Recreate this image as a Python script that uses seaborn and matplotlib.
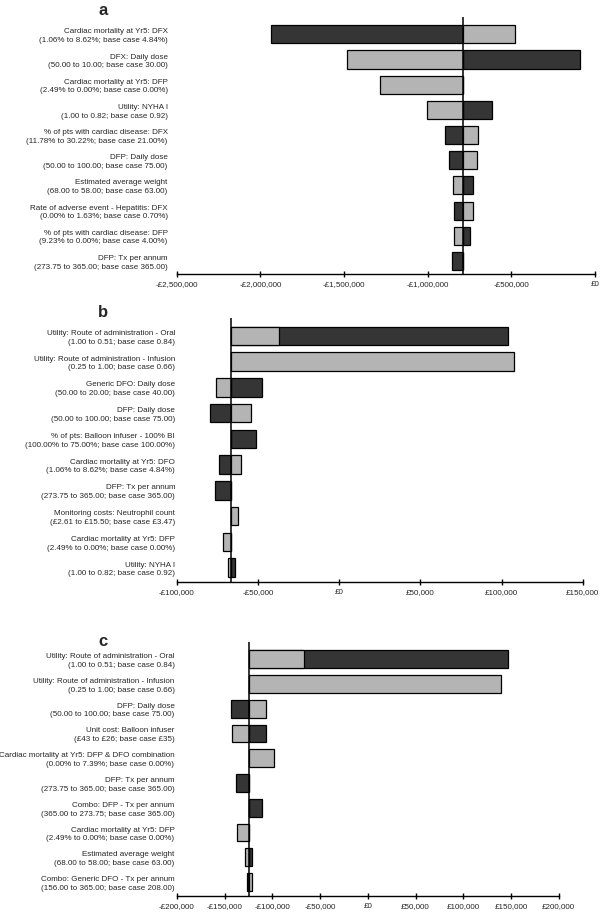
import matplotlib
matplotlib.use("Agg")
import matplotlib.pyplot as plt
import numpy as np
import pandas as pd
import seaborn as sns

# ---------------- data ----------------
a_labels = [
    "Cardiac mortality at Yr5: DFX\n(1.06% to 8.62%; base case 4.84%)",
    "DFX: Daily dose\n(50.00 to 10.00; base case 30.00)",
    "Cardiac mortality at Yr5: DFP\n(2.49% to 0.00%; base case 0.00%)",
    "Utility: NYHA I\n(1.00 to 0.82; base case 0.92)",
    "% of pts with cardiac disease: DFX\n(11.78% to 30.22%; base case 21.00%)",
    "DFP: Daily dose\n(50.00 to 100.00; base case 75.00)",
    "Estimated average weight\n(68.00 to 58.00; base case 63.00)",
    "Rate of adverse event - Hepatitis: DFX\n(0.00% to 1.63%; base case 0.70%)",
    "% of pts with cardiac disease: DFP\n(9.23% to 0.00%; base case 4.00%)",
    "DFP: Tx per annum\n(273.75 to 365.00; base case 365.00)",
]
a_base = -787000
a_light = [-481000, -1484000, -1287000, -1002000, -701000, -703000, -850000, -731000, -844000, -787000]
a_dark = [-1939000, -91000, -787000, -614000, -895000, -872000, -727000, -841000, -749000, -854000]
a_ticks = [-2500000, -2000000, -1500000, -1000000, -500000, 0]
a_ticklabels = ["-£2,500,000", "-£2,000,000", "-£1,500,000", "-£1,000,000", "-£500,000", "£0"]

b_labels = [
    "Utility: Route of administration - Oral\n(1.00 to 0.51; base case 0.84)",
    "Utility: Route of administration - Infusion\n(0.25 to 1.00; base case 0.66)",
    "Generic DFO: Daily dose\n(50.00 to 20.00; base case 40.00)",
    "DFP: Daily dose\n(50.00 to 100.00; base case 75.00)",
    "% of pts: Balloon infuser - 100% BI\n(100.00% to 75.00%; base case 100.00%)",
    "Cardiac mortality at Yr5: DFO\n(1.06% to 8.62%; base case 4.84%)",
    "DFP: Tx per annum\n(273.75 to 365.00; base case 365.00)",
    "Monitoring costs: Neutrophil count\n(£2.61 to £15.50; base case £3.47)",
    "Cardiac mortality at Yr5: DFP\n(2.49% to 0.00%; base case 0.00%)",
    "Utility: NYHA I\n(1.00 to 0.82; base case 0.92)",
]
b_base = -66700
b_light = [-36800, 107400, -76100, -54000, -66700, -60200, -66700, -62300, -71300, -68600]
b_dark = [103700, -66700, -47600, -79400, -51400, -73800, -76200, -66700, -66700, -64300]
b_ticks = [-100000, -50000, 0, 50000, 100000, 150000]
b_ticklabels = ["-£100,000", "-£50,000", "£0", "£50,000", "£100,000", "£150,000"]

c_labels = [
    "Utility: Route of administration - Oral\n(1.00 to 0.51; base case 0.84)",
    "Utility: Route of administration - Infusion\n(0.25 to 1.00; base case 0.66)",
    "DFP: Daily dose\n(50.00 to 100.00; base case 75.00)",
    "Unit cost: Balloon infuser\n(£43 to £26; base case £35)",
    "Cardiac mortality at Yr5: DFP & DFO combination\n(0.00% to 7.39%; base case 0.00%)",
    "DFP: Tx per annum\n(273.75 to 365.00; base case 365.00)",
    "Combo: DFP - Tx per annum\n(365.00 to 273.75; base case 365.00)",
    "Cardiac mortality at Yr5: DFP\n(2.49% to 0.00%; base case 0.00%)",
    "Estimated average weight\n(68.00 to 58.00; base case 63.00)",
    "Combo: Generic DFO - Tx per annum\n(156.00 to 365.00; base case 208.00)",
]
c_base = -124500
c_light = [-66700, 140000, -106300, -142500, -98300, -124500, -124500, -136800, -128400, -121700]
c_dark = [146400, -124500, -142900, -106700, -124500, -138500, -110900, -124500, -121100, -126600]
c_ticks = [-200000, -150000, -100000, -50000, 0, 50000, 100000, 150000, 200000]
c_ticklabels = ["-£200,000", "-£150,000", "-£100,000", "-£50,000", "£0",
                "£50,000", "£100,000", "£150,000", "£200,000"]

panel_letters = ["a", "b", "c"]

# ---------------- style ----------------
sns.set_style("white")
plt.rcParams["font.family"] = ["Liberation Sans", "DejaVu Sans"]

DARK = "#353535"
LIGHT = "#b4b4b4"
W, H = 600, 913
FS = 5.8

fig = plt.figure(figsize=(W / 100, H / 100), dpi=100)


def px_axes(left, right, top, bottom):
    return fig.add_axes([left / W, 1 - bottom / H, (right - left) / W, (bottom - top) / H])


def draw(ax, labels, light, dark, base, ticks, ticklabels, ylim, ypad):
    df = pd.DataFrame({"param": labels, "light": light, "dark": dark})
    df["dark_d"] = df["dark"] - base
    df["light_d"] = df["light"] - base
    common = dict(data=df, y="param", orient="h", left=base, width=0.72,
                  edgecolor="black", linewidth=0.9, errorbar=None,
                  saturation=1, ax=ax)
    sns.barplot(x="dark_d", color=DARK, **common)
    sns.barplot(x="light_d", color=LIGHT, **common)
    ax.axvline(base, color="black", lw=1.1, zorder=5)
    ax.set_xlim(ticks[0], ticks[-1])
    ax.set_ylim(*ylim)
    ax.set_xticks(ticks)
    ax.set_xticklabels(ticklabels, fontsize=FS)
    ax.set_xlabel("")
    ax.set_ylabel("")
    for s in ["top", "right", "left"]:
        ax.spines[s].set_visible(False)
    ax.spines["bottom"].set_color("black")
    ax.spines["bottom"].set_linewidth(1.0)
    ax.tick_params(axis="x", direction="inout", length=4, width=1.0,
                   color="black", pad=3.2, bottom=True)
    ax.tick_params(axis="y", length=0, pad=ypad, labelsize=FS)
    for t in ax.get_yticklabels():
        t.set_linespacing(1.35)
    ax.grid(False)
    ax.set_facecolor("none")


ax_a = px_axes(176.7, 595, 17, 274)
draw(ax_a, a_labels, a_light, a_dark, a_base, a_ticks, a_ticklabels, (9.52, -0.69), 6.5)

ax_b = px_axes(176.7, 582.7, 318, 582)
draw(ax_b, b_labels, b_light, b_dark, b_base, b_ticks, b_ticklabels, (9.56, -0.70), 1.2)

ax_c = px_axes(177, 558.7, 642, 896)
draw(ax_c, c_labels, c_light, c_dark, c_base, c_ticks, c_ticklabels, (9.56, -0.69), 1.8)

for letter, yb in zip(panel_letters, [15, 316.7, 645.7]):
    fig.text(103 / W, 1 - yb / H, letter, ha="center", va="baseline",
             fontsize=12, fontweight="bold")

fig.savefig("out.png", dpi=100)
